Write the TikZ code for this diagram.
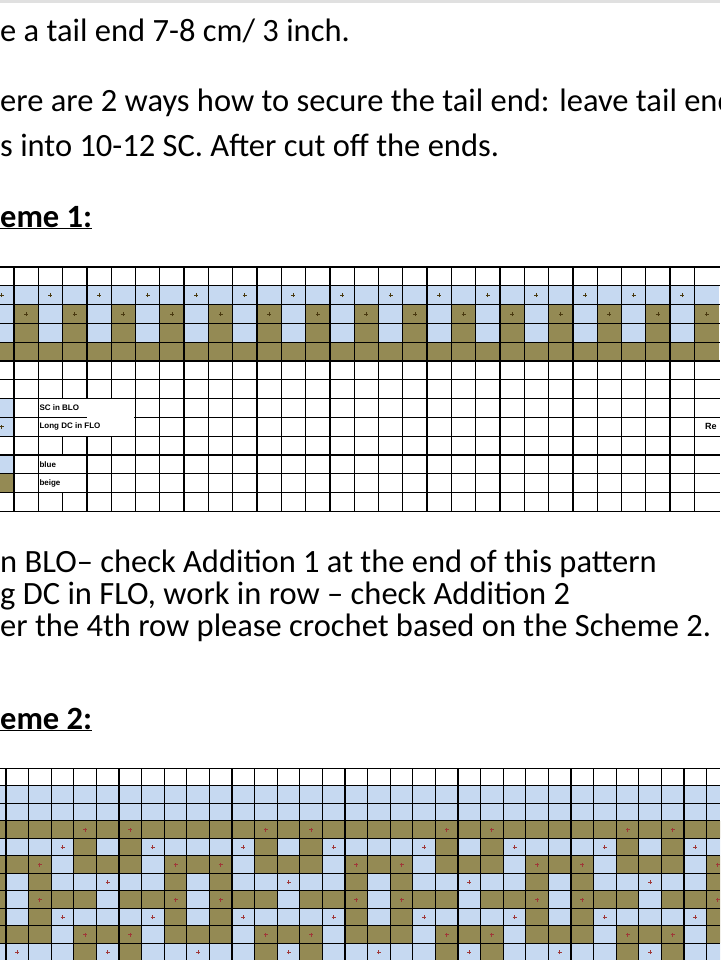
\documentclass[tikz,border=0pt]{standalone}
\usepackage{fontspec}
\setmainfont{Carlito}
\newfontfamily\legendfont{Liberation Sans}
\usetikzlibrary{positioning}
\definecolor{sblue}{HTML}{C6D9F1}
\definecolor{sbeige}{HTML}{948A54}
\definecolor{plusA}{HTML}{4A3A10}
\definecolor{plusB}{HTML}{A03838}
\tikzset{
  body/.style={anchor=base west, inner sep=0pt, font=\fontsize{32.5}{32.5}\selectfont},
  head/.style={body, font=\fontsize{32.5}{32.5}\selectfont\bfseries},
  legend/.style={anchor=west, inner sep=1pt, font=\legendfont\fontsize{8}{8}\selectfont\bfseries},
  gridline/.style={line width=1.3pt, black},
  plusmark/.style={path picture={%
     \draw[line width=0.9pt, #1] ([xshift=-2pt]path picture bounding box.center) -- ([xshift=2pt]path picture bounding box.center);
     \draw[line width=0.9pt, #1] ([yshift=-2pt]path picture bounding box.center) -- ([yshift=2pt]path picture bounding box.center);}},
  cl/.style={fill=sblue},
  cL/.style={fill=sblue, plusmark=plusB},
  cg/.style={fill=sbeige},
  cG/.style={fill=sbeige, plusmark=plusB},
  ol/.style={fill=sblue},
  oL/.style={fill=sblue, plusmark=plusA},
  og/.style={fill=sbeige},
  oG/.style={fill=sbeige, plusmark=plusA},
}
\begin{document}
\begin{tikzpicture}[x=1pt, y=-1pt]
   \useasboundingbox (0,0) rectangle (720,960);
   \clip (0,0) rectangle (720,960);
   \fill[black!12] (0,0) rectangle (720,3);

% Text %%%%%%%%%%%%%%%%%%%%%%%%%%%%%%%%%%%%%%%%%%%%%%%%%%%%%%%%%%%
   \node[body] (t1) at (0,42) {e a tail end 7-8 cm/ 3 inch.};
   \node[body] (t2) at (0,112) {ere are 2 ways how to secure the tail end: leave tail end};
   \node[body] (t3) at (0,157) {s into 10-12 SC. After cut off the ends.};
   \node[head] (h1) at (0,227) {\underline{eme 1:}};
   \node[body] (t4) at (0,572) {n BLO-- check Addition 1 at the end of this pattern};
   \node[body] (t5) at (0,604) {g DC in FLO, work in row -- check Addition 2};
   \node[body] (t6) at (0,636) {er the 4th row please crochet based on the Scheme 2.};
   \node[head] (h2) at (0,729) {\underline{eme 2:}};

% Scheme 1 %%%%%%%%%%%%%%%%%%%%%%%%%%%%%%%%%%%%%%%%%%%%%%%%%%%%%%%
   \foreach \i in {0,...,29}{
      \pgfmathsetmacro{\xa}{14+24.3*(\i-1)}
      \pgfmathparse{int(mod(\i,2))}
      \ifnum\pgfmathresult=0
         \path[oL] (\xa,285.8) rectangle ++(24.3,18.8);
         \path[ol] (\xa,304.6) rectangle ++(24.3,37.6);
      \else
         \path[ol] (\xa,285.8) rectangle ++(24.3,18.8);
         \path[oG] (\xa,304.6) rectangle ++(24.3,18.8);
         \path[og] (\xa,323.4) rectangle ++(24.3,18.8);
      \fi
      \path[og] (\xa,342.2) rectangle ++(24.3,18.8);
   }
   % legend swatches
   \path[ol] (-10.3,398.6) rectangle ++(24.3,18.8);
   \path[oL] (-10.3,417.4) rectangle ++(24.3,18.8);
   \path[ol] (-10.3,455) rectangle ++(24.3,18.8);
   \path[og] (-10.3,473.8) rectangle ++(24.3,18.8);
   \foreach \i in {0,...,29}
      \draw[gridline] ({14+24.3*(\i-1)},267) -- ++(0,244.4);
   \foreach \r in {0,...,13}
      \draw[gridline] (-11,{267+18.8*\r}) -- (720,{267+18.8*\r});
   % merged legend cells
   \fill[white] (38.9,399.3) rectangle (109.9,416.7);
   \fill[white] (38.9,399.3) rectangle (134.2,435.5);
   \fill[white] (38.9,455.7) rectangle (85.6,491.9);
   \draw[gridline] (38.3,417.4) -- (87,417.4);
   \draw[gridline] (38.3,473.8) -- (87,473.8);
   \node[legend] (sc) at (38.3,408) {SC in BLO};
   \node[legend] (dc) at (38.3,426.8) {Long DC in FLO};
   \node[legend] (bl) at (38.3,464.4) {blue};
   \node[legend] (be) at (38.3,483.2) {beige};
   \fill[white] (700,418.1) rectangle (720,435.5);
   \node[legend, font=\legendfont\fontsize{9}{9}\selectfont\bfseries] (re) at (704,426.8) {Re};

% Scheme 2 %%%%%%%%%%%%%%%%%%%%%%%%%%%%%%%%%%%%%%%%%%%%%%%%%%%%%%%
   \path[cl] (-17,785.8) rectangle (720,820.8);
   \foreach \r/\row in {3/{g,g,g,G,g,G,g,g}, 4/{l,l,L,g,l,g,L,l},
         5/{g,G,l,g,g,g,l,G}, 6/{l,g,l,l,L,l,l,g}, 7/{l,G,g,g,l,g,g,G},
         8/{l,g,L,l,l,l,L,g}, 9/{g,g,l,G,g,G,l,g}, 10/{L,l,l,g,L,g,l,l}}{
      \foreach \c [count=\k from 0] in \row {
         \foreach \b in {-1,...,3}{
            \path[c\c] ({6+22.6*(8*\b+\k)},{768.3+17.5*\r}) rectangle ++(22.6,17.5);
         }
      }
   }
   \foreach \j in {0,...,32}
      \draw[gridline] ({6+22.6*\j},768.3) -- (({6+22.6*\j},960);
   \foreach \r in {0,...,11}
      \draw[gridline] (-17,{768.3+17.5*\r}) -- (720,{768.3+17.5*\r});
\end{tikzpicture}
\end{document}
